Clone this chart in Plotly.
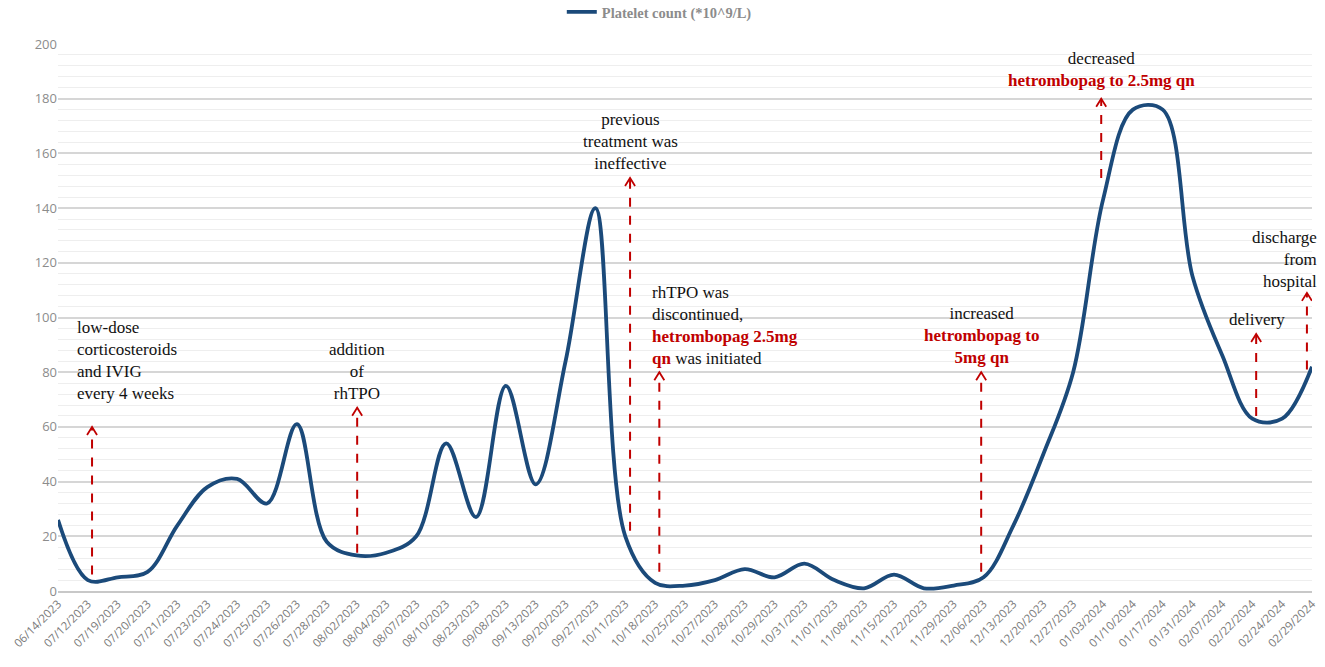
import plotly.graph_objects as go

# x categories (visit dates)
dates = [
    "06/14/2023", "07/12/2023", "07/19/2023", "07/20/2023", "07/21/2023", "07/23/2023",
    "07/24/2023", "07/25/2023", "07/26/2023", "07/28/2023", "08/02/2023", "08/04/2023",
    "08/07/2023", "08/10/2023", "08/23/2023", "09/08/2023", "09/13/2023", "09/20/2023",
    "09/27/2023", "10/11/2023", "10/18/2023", "10/25/2023", "10/27/2023", "10/28/2023",
    "10/29/2023", "10/31/2023", "11/01/2023", "11/08/2023", "11/15/2023", "11/22/2023",
    "11/29/2023", "12/06/2023", "12/13/2023", "12/20/2023", "12/27/2023", "01/03/2024",
    "01/10/2024", "01/17/2024", "01/31/2024", "02/07/2024", "02/22/2024", "02/24/2024",
    "02/29/2024",
]

# platelet count (*10^9/L)
platelets = [
    26, 4, 5, 7, 24, 38,
    41, 32, 61, 18, 13, 14,
    20, 54, 27, 75, 39, 84,
    140, 20, 3, 2, 4, 8,
    5, 10, 4, 1, 6, 1,
    2, 5, 24, 50, 80, 143,
    176, 176, 115, 86, 63, 63,
    82,
]

# treatment events: arrow position (category index), arrow base / tip value
event_x = [1.14, 10.02, 19.16, 20.14, 30.92, 34.94, 40.13, 41.83]
event_base = [6, 14, 22, 7, 7, 151, 64, 81]
event_tip = [60, 67, 151, 80, 80, 180, 94, 109]

RED = "#C00000"


def red(s):
    return f"<span style='color:{RED}'><b>{s}</b></span>"


event_texts = [
    "low-dose<br>corticosteroids<br>and IVIG<br>every 4 weeks",
    "addition<br>of<br>rhTPO",
    "previous<br>treatment was<br>ineffective",
    "rhTPO was<br>discontinued,<br>" + red("hetrombopag 2.5mg") + "<br>" + red("qn") + " was initiated",
    "increased<br>" + red("hetrombopag to") + "<br>" + red("5mg qn"),
    "decreased<br>" + red("hetrombopag to 2.5mg qn"),
    "delivery",
    "discharge<br>from<br>hospital",
]
# text anchor (category index, top value), pixel shift and alignment
text_x = [0.57, 10.02, 19.16, 19.83, 30.92, 34.94, 40.17, 42]
text_shift = [0, 0, 0, 0, 0, 0, 0, 7]
text_y = [100.5, 92.5, 176.6, 113.3, 105.7, 199, 103.5, 133.5]
text_anchor = ["left", "center", "center", "left", "center", "center", "center", "right"]

fig = go.Figure()

fig.add_trace(go.Scatter(
    x=list(range(len(dates))),
    y=platelets,
    mode="lines",
    name="<b>Platelet count (*10^9/L)</b>",
    line=dict(color="#1B4A7A", width=3.8, shape="spline", smoothing=1.0),
    hovertemplate="%{text}<br>%{y}<extra></extra>",
    text=dates,
))

# dashed arrows with open chevron heads
for x, b, t in zip(event_x, event_base, event_tip):
    fig.add_shape(type="line", x0=x, x1=x, y0=b, y1=t, xref="x", yref="y",
                  line=dict(color=RED, width=2, dash="dash"))
    fig.add_shape(type="path", xref="x", yref="y",
                  xsizemode="pixel", ysizemode="pixel", xanchor=x, yanchor=t,
                  path="M-5,-8 L0,0 L5,-8",
                  line=dict(color=RED, width=1.8))

for txt, x, xs, y, a in zip(event_texts, text_x, text_shift, text_y, text_anchor):
    fig.add_annotation(x=x, y=y, xref="x", yref="y", text=txt, showarrow=False,
                       xanchor=a, yanchor="top", align=a, xshift=xs,
                       font=dict(family="Liberation Serif", size=17, color="#111111"))

fig.update_layout(
    width=1325, height=667,
    margin=dict(l=58, r=13, t=44, b=76),
    plot_bgcolor="white",
    paper_bgcolor="white",
    showlegend=True,
    legend=dict(
        orientation="h",
        xref="container", yref="container",
        x=0.424, xanchor="left",
        y=0.982, yanchor="middle",
        font=dict(family="Liberation Serif", size=14.5, color="#8C8C8C"),
        bgcolor="rgba(0,0,0,0)",
    ),
    xaxis=dict(
        range=[0, len(dates) - 1],
        tickvals=list(range(len(dates))),
        ticktext=dates,
        tickangle=-45,
        tickfont=dict(family="Open Sans", size=11.5, color="#7A7A7A"),
        showgrid=False,
        zeroline=False,
        showline=True,
        linecolor="#C8C8C8",
        linewidth=1.5,
        ticks="",
        automargin=False,
    ),
    yaxis=dict(
        range=[0, 200],
        dtick=20,
        tickfont=dict(family="Open Sans", size=13, color="#8C8C8C"),
        showgrid=True,
        gridcolor="#D6D6D6",
        gridwidth=1.5,
        zeroline=False,
        minor=dict(dtick=4, showgrid=True, gridcolor="#EEEEEE", gridwidth=1),
        ticks="",
        automargin=False,
    ),
)

fig.write_html("out.html", config={"displayModeBar": False},
               post_script="document.body.style.margin='0';")
